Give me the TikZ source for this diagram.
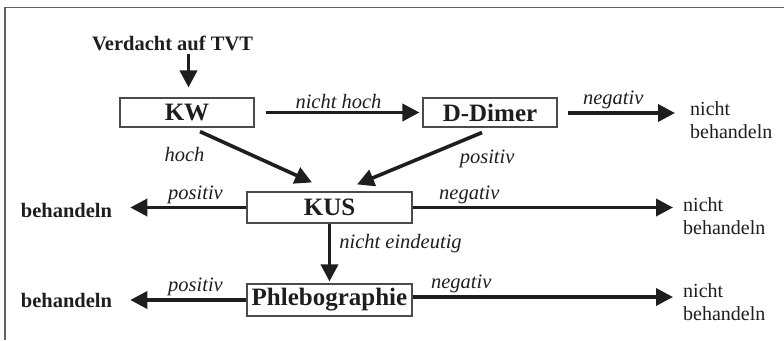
\documentclass[tikz,border=0pt]{standalone}
\usepackage{fontspec}
\setmainfont{Liberation Serif}
\usetikzlibrary{arrows.meta,calc,positioning}
\definecolor{ink}{HTML}{1E1E1E}
\begin{document}
\begin{tikzpicture}[x=1pt,y=-1pt,
  box/.style={draw=ink!80,line width=1.1pt,rectangle,inner sep=0pt,font=\bfseries\fontsize{25}{25}\selectfont,text=ink},
  arr/.style={draw=ink,line width=3.6pt,-{Triangle[length=17pt,width=17pt]}},
  lbl/.style={font=\itshape\fontsize{20.5}{20.5}\selectfont,text=ink,inner sep=1pt},
  res/.style={font=\fontsize{20}{23}\selectfont,text=ink,align=left,inner sep=0pt},
  bres/.style={font=\bfseries\fontsize{20.5}{23}\selectfont,text=ink,inner sep=0pt}]
\useasboundingbox (0,0) rectangle (784,340);
\draw[ink!70,line width=1.3pt] (784,7.5) -- (5,7.5) -- (5,340);
\node[font=\bfseries\fontsize{20.5}{20.5}\selectfont,text=ink,inner sep=0pt] (verd) at (172.5,43) {Verdacht auf TVT};
\node[box,minimum width=134pt,minimum height=29pt] (kw) at (187,112.5) {KW};
\node[box,minimum width=134pt,minimum height=29pt] (dd) at (490,112.5) {D-Dimer};
\node[box,minimum width=165pt,minimum height=31pt] (kus) at (329.5,207.5) {KUS};
\node[box,minimum width=165pt,minimum height=32pt] (phl) at (329.5,300) {Phlebographie};
\node[res,anchor=west] (nb1) at (690,120) {nicht\\behandeln};
\node[res,anchor=west] (nb2) at (683,216) {nicht\\behandeln};
\node[res,anchor=west] (nb3) at (683,302) {nicht\\behandeln};
\node[bres] (bh1) at (66.5,210) {behandeln};
\node[bres] (bh2) at (66.5,300) {behandeln};
\draw[arr,shorten <=3pt,shorten >=10pt] ($(verd.south)+(16,0)$) coordinate (v0) -- (v0 |- kw.north);
\draw[arr,shorten <=11pt,shorten >=3pt] (kw.east) -- node[lbl,above=1pt,pos=0.5] {nicht hoch} (dd.west);
\draw[arr,shorten <=10pt,shorten >=15pt] (dd.east |- 0,113) -- node[lbl,above=1pt,pos=0.42] {negativ} (nb1.west |- 0,113);
\draw[arr] ($(kw.south)+(13,4)$) -- node[lbl,pos=0.1,below left=8pt and 4pt] {hoch} ($(kus.north)+(-17.5,-9)$);
\draw[arr] ($(dd.south)+(-8,5)$) -- node[lbl,pos=0.12,below right=8pt and -10pt] {positiv} ($(kus.north)+(27.5,-7)$);
\draw[arr,shorten >=18pt] (kus.west) -- node[lbl,above=1pt,pos=0.38] {positiv} (bh1.east |- kus.west);
\draw[arr,shorten >=10pt] (kus.east) -- node[lbl,above=1pt,pos=0.21] {negativ} (nb2.west |- kus.east);
\draw[arr,shorten >=2pt] (kus.south) -- node[lbl,right=7pt,pos=0.33] {nicht eindeutig} (phl.north);
\draw[arr,shorten >=18pt] (phl.west) -- node[lbl,above=1pt,pos=0.38] {positiv} (bh2.east |- phl.west);
\draw[arr,shorten >=10pt] ($(phl.east)+(0,-3)$) -- node[lbl,above=1pt,pos=0.18] {negativ} ($(nb3.west |- phl.east)+(0,-3)$);
\end{tikzpicture}
\end{document}
